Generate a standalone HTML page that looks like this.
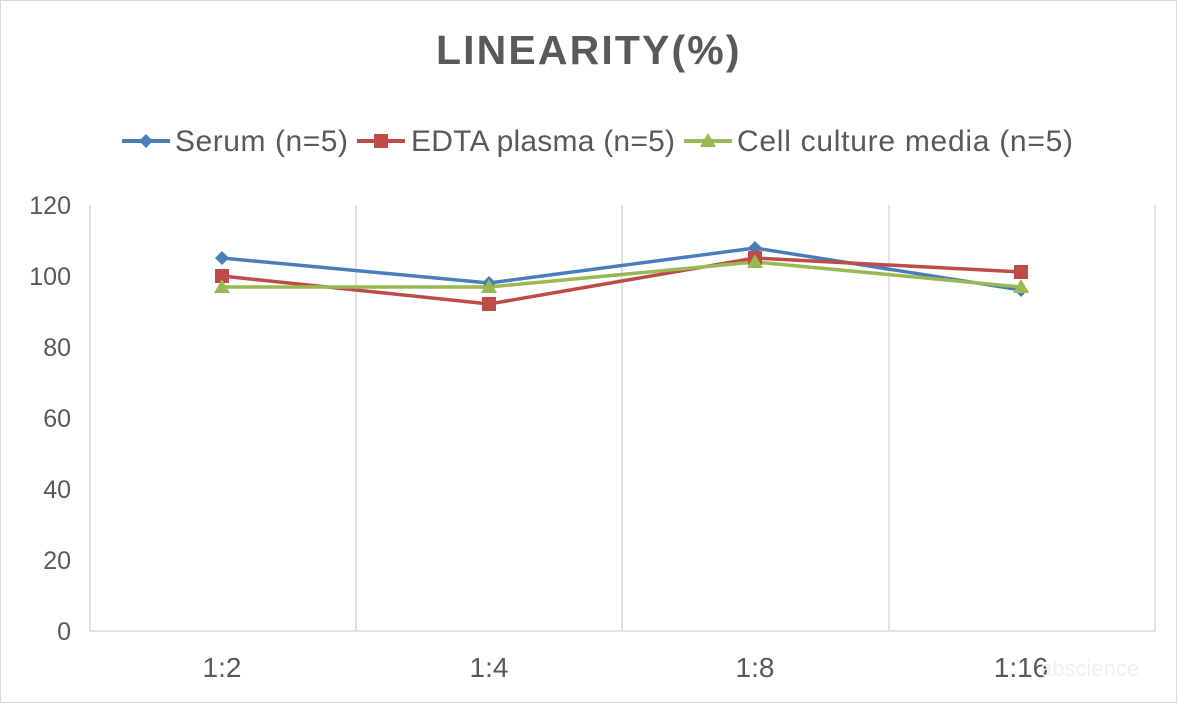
<!DOCTYPE html>
<html><head><style>body{margin:0;background:#fff}</style></head><body>
<svg width="1179" height="705" xmlns="http://www.w3.org/2000/svg" font-family="Liberation Sans, DejaVu Sans, sans-serif">
<rect x="0.5" y="0.5" width="1176" height="702" fill="#fff" stroke="#d9d9d9"/>
<text x="589" y="64" text-anchor="middle" font-size="41" font-weight="bold" fill="#595959" letter-spacing="2.5" textLength="306">LINEARITY(%)</text>
<g font-size="30" fill="#595959">
<line x1="122" y1="141" x2="170" y2="141" stroke="#4a7ebb" stroke-width="4"/><path d="M146 134l7 7-7 7-7-7z" fill="#4a7ebb"/>
<text x="175" y="151" textLength="173">Serum (n=5)</text>
<line x1="357" y1="141" x2="405" y2="141" stroke="#be4b48" stroke-width="4"/><rect x="374" y="134" width="14" height="14" fill="#be4b48"/>
<text x="411" y="151" textLength="264">EDTA plasma (n=5)</text>
<line x1="684" y1="141" x2="732" y2="141" stroke="#98b954" stroke-width="4"/><path d="M708 133l8 14h-16z" fill="#98b954"/>
<text x="737" y="151" textLength="336">Cell culture media (n=5)</text>
</g>
<g stroke="#d9d9d9" stroke-width="1.5">
<line x1="90" y1="205" x2="90" y2="631"/><line x1="356" y1="205" x2="356" y2="631"/><line x1="622" y1="205" x2="622" y2="631"/><line x1="889" y1="205" x2="889" y2="631"/><line x1="1155" y1="205" x2="1155" y2="631"/>
<line x1="90" y1="631" x2="1155" y2="631"/>
</g>
<g font-size="25" fill="#595959" text-anchor="end">
<text x="71" y="214">120</text><text x="71" y="285">100</text><text x="71" y="356">80</text><text x="71" y="427">60</text><text x="71" y="498">40</text><text x="71" y="569">20</text><text x="71" y="640">0</text>
</g>
<g font-size="28" fill="#595959" text-anchor="middle">
<text x="222" y="677">1:2</text><text x="489" y="677">1:4</text><text x="755" y="677">1:8</text><text x="1021" y="677">1:16</text>
</g>
<polyline points="222,258 489,283 755,248 1021,290" fill="none" stroke="#4a7ebb" stroke-width="3.5"/>
<polyline points="222,276 489,304 755,258 1021,272" fill="none" stroke="#be4b48" stroke-width="3.5"/>
<polyline points="222,287 489,287 755,262 1021,287" fill="none" stroke="#98b954" stroke-width="3.5"/>
<g fill="#4a7ebb"><path d="M222 251l7 7-7 7-7-7z"/><path d="M489 276l7 7-7 7-7-7z"/><path d="M755 241l7 7-7 7-7-7z"/><path d="M1021 283l7 7-7 7-7-7z"/></g>
<g fill="#be4b48"><rect x="215" y="269" width="14" height="14"/><rect x="482" y="297" width="14" height="14"/><rect x="748" y="251" width="14" height="14"/><rect x="1014" y="265" width="14" height="14"/></g>
<g fill="#98b954"><path d="M222 279l8 14h-16z"/><path d="M489 279l8 14h-16z"/><path d="M755 254l8 14h-16z"/><path d="M1021 279l8 14h-16z"/></g>
<text x="1040" y="676" font-size="22" fill="#f0f0f0">abscience</text>
</svg>
</body></html>
